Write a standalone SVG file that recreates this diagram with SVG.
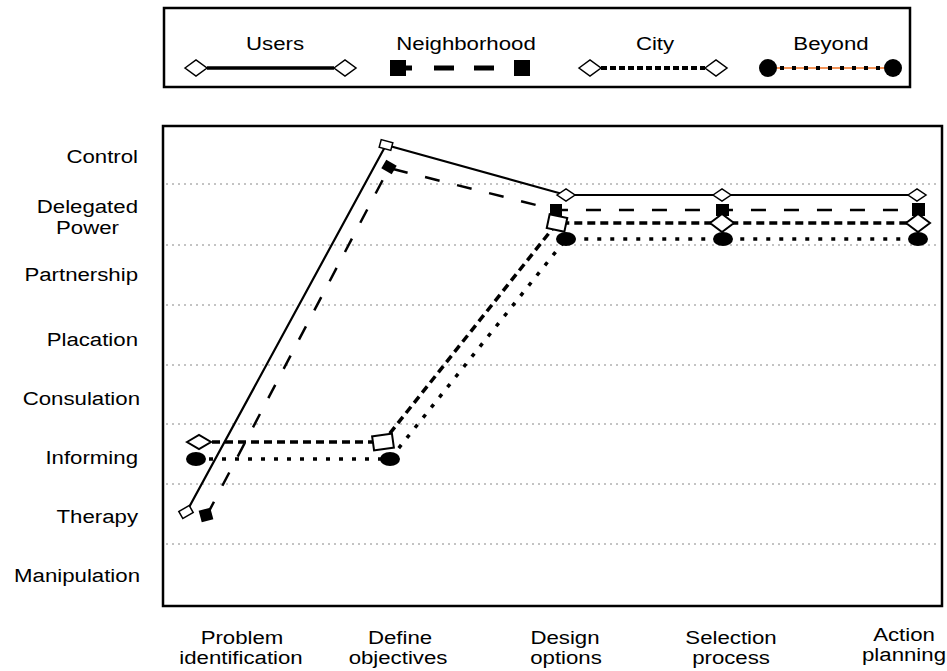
<svg xmlns="http://www.w3.org/2000/svg" width="947" height="671" viewBox="0 0 947 671">
<style>
.t{font-family:"Liberation Sans",Arial,sans-serif;font-size:19px;fill:#000}
.m{text-anchor:middle}
.e{text-anchor:end}
.grid{stroke:#888;stroke-width:1;stroke-dasharray:2,4;fill:none}
.box{fill:none;stroke:#000;stroke-width:2.5}
.users{fill:none;stroke:#000;stroke-width:2.2}
.nbh{fill:none;stroke:#000;stroke-width:2.5;stroke-dasharray:15,18}
.city{fill:none;stroke:#000;stroke-width:3.5;stroke-dasharray:8,5}
.beyond{fill:none;stroke:#000;stroke-width:3.5;stroke-dasharray:4,9}
.hollow{fill:#fff;stroke:#000;stroke-width:1.5}
.hollow2{fill:#fff;stroke:#000;stroke-width:2}
.solid{fill:#000;stroke:none}
</style>

<g id="legend">
  <rect class="box" x="164" y="8" width="746" height="79" stroke-width="2"/>
  <text class="t m" transform="translate(275,50) scale(1.17,1)">Users</text>
  <text class="t m" transform="translate(466,50) scale(1.17,1)">Neighborhood</text>
  <text class="t m" transform="translate(655,50) scale(1.17,1)">City</text>
  <text class="t m" transform="translate(831,50) scale(1.17,1)">Beyond</text>
  <line x1="207" y1="68" x2="334" y2="68" stroke="#000" stroke-width="3.5"/>
  <polygon class="hollow" points="185,68 196,60 207,68 196,76"/>
  <polygon class="hollow" points="334,68 345,60 356,68 345,76"/>
  <line x1="404" y1="68" x2="515" y2="68" stroke="#000" stroke-width="5" stroke-dasharray="8,22,20,20,20,20"/>
  <rect class="solid" x="390" y="60" width="16" height="16"/>
  <rect class="solid" x="514" y="60" width="16" height="16"/>
  <line x1="601" y1="68" x2="705" y2="68" stroke="#000" stroke-width="4" stroke-dasharray="6,3"/>
  <polygon class="hollow" points="579,68 590,60 601,68 590,76"/>
  <polygon class="hollow" points="705,68 716,60 727,68 716,76"/>
  <line x1="777" y1="68" x2="884" y2="68" stroke="#f07020" stroke-width="1.5"/>
  <line x1="780" y1="68" x2="884" y2="68" stroke="#000" stroke-width="4" stroke-dasharray="4,8"/>
  <circle class="solid" cx="768" cy="68" r="9"/>
  <circle class="solid" cx="893" cy="68" r="9"/>
</g>

<g id="grid">
  <line class="grid" x1="166" y1="184" x2="938" y2="184"/>
  <line class="grid" x1="166" y1="245" x2="938" y2="245"/>
  <line class="grid" x1="166" y1="305" x2="938" y2="305"/>
  <line class="grid" x1="166" y1="365" x2="938" y2="365"/>
  <line class="grid" x1="166" y1="424" x2="938" y2="424"/>
  <line class="grid" x1="166" y1="484" x2="938" y2="484"/>
  <line class="grid" x1="166" y1="544" x2="938" y2="544"/>
</g>

<g id="plot-frame">
  <rect class="box" x="163" y="126" width="779" height="480"/>
</g>

<g id="y-labels">
  <text class="t e" transform="translate(138,163) scale(1.17,1)">Control</text>
  <text class="t e" transform="translate(138,213) scale(1.17,1)">Delegated</text>
  <text class="t e" transform="translate(119,234) scale(1.17,1)">Power</text>
  <text class="t e" transform="translate(138,281) scale(1.17,1)">Partnership</text>
  <text class="t e" transform="translate(138,346) scale(1.17,1)">Placation</text>
  <text class="t e" transform="translate(140,405) scale(1.17,1)">Consulation</text>
  <text class="t e" transform="translate(138,464) scale(1.17,1)">Informing</text>
  <text class="t e" transform="translate(138,523) scale(1.17,1)">Therapy</text>
  <text class="t e" transform="translate(140,582) scale(1.17,1)">Manipulation</text>
</g>

<g id="x-labels">
  <text class="t m" transform="translate(242,644) scale(1.17,1)">Problem</text>
  <text class="t m" transform="translate(241,664) scale(1.17,1)">identification</text>
  <text class="t m" transform="translate(400,644) scale(1.17,1)">Define</text>
  <text class="t m" transform="translate(398,664) scale(1.17,1)">objectives</text>
  <text class="t m" transform="translate(565,644) scale(1.17,1)">Design</text>
  <text class="t m" transform="translate(566,664) scale(1.17,1)">options</text>
  <text class="t m" transform="translate(731,644) scale(1.17,1)">Selection</text>
  <text class="t m" transform="translate(731,664) scale(1.17,1)">process</text>
  <text class="t m" transform="translate(904,641) scale(1.17,1)">Action</text>
  <text class="t m" transform="translate(904,661) scale(1.17,1)">planning</text>
</g>

<g id="connectors">
  <polyline id="users-line" class="users" points="187,511 386,145 566,195 722,195 917,195"/>
  <polyline id="neighborhood-line" class="nbh" points="207,515 389,168 556,210 722,210 918,210"/>
  <polyline id="city-line" class="city" points="199,442 383,442 557,223 722,223 918,223"/>
  <polyline id="beyond-line" class="beyond" points="196,459 390,459 566,239 723,239 918,239"/>
</g>

<g id="users-markers">
  <rect class="hollow" x="-6" y="-4" width="12" height="8" transform="translate(186,512) rotate(-30)"/>
  <rect class="hollow" x="-6" y="-4" width="12" height="8" transform="translate(386,145) rotate(15)"/>
  <polygon class="hollow" points="557,195 566,189 575,195 566,201"/>
  <polygon class="hollow" points="713,195 722,189 731,195 722,201"/>
  <polygon class="hollow" points="908,195 917,189 926,195 917,201"/>
</g>

<g id="neighborhood-markers">
  <rect class="solid" x="-6" y="-6" width="12" height="12" transform="translate(206,515) rotate(-15)"/>
  <rect class="solid" x="-6" y="-5" width="12" height="10" transform="translate(389,167) rotate(30)"/>
  <rect class="solid" x="550" y="204" width="12" height="12"/>
  <rect class="solid" x="716" y="204" width="13" height="12"/>
  <rect class="solid" x="912" y="203" width="13" height="13"/>
</g>

<g id="city-markers">
  <polygon class="hollow2" points="187,442 199,435 211,442 199,449"/>
  <rect class="hollow2" x="-10" y="-7" width="20" height="14" transform="translate(383,442) rotate(-8)"/>
  <rect class="hollow2" x="-9" y="-7" width="18" height="14" transform="translate(557,223) rotate(12)"/>
  <polygon class="hollow2" points="710,223 722,214 734,223 722,232"/>
  <polygon class="hollow2" points="906,223 918,214 930,223 918,232"/>
</g>

<g id="beyond-markers">
  <ellipse class="solid" cx="196" cy="459" rx="10" ry="7"/>
  <ellipse class="solid" cx="390" cy="459" rx="10" ry="7"/>
  <ellipse class="solid" cx="566" cy="239" rx="10" ry="7"/>
  <ellipse class="solid" cx="723" cy="239" rx="10" ry="7"/>
  <ellipse class="solid" cx="918" cy="239" rx="10" ry="7"/>
</g>
</svg>
